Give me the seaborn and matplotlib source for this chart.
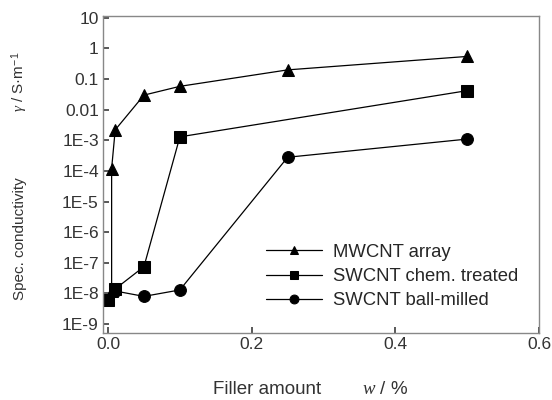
import matplotlib
matplotlib.use("Agg")
import matplotlib.pyplot as plt
import seaborn as sns

# filler amount w / %
mw_x = [0.005, 0.005, 0.01, 0.05, 0.1, 0.25, 0.5]
mw_y = [1.2e-8, 1.2e-4, 2.2e-3, 0.03, 0.058, 0.2, 0.55]

sw_chem_x = [0.0, 0.01, 0.05, 0.1, 0.5]
sw_chem_y = [6e-9, 1.4e-8, 7.5e-8, 1.3e-3, 0.042]

sw_ball_x = [0.01, 0.05, 0.1, 0.25, 0.5]
sw_ball_y = [1.2e-8, 8e-9, 1.3e-8, 2.8e-4, 1.1e-3]

series_names = ["MWCNT array", "SWCNT chem. treated", "SWCNT ball-milled"]
series_markers = ["^", "s", "o"]

ytick_vals = [10, 1, 0.1, 0.01, 1e-3, 1e-4, 1e-5, 1e-6, 1e-7, 1e-8, 1e-9]
ytick_labels = ["10", "1", "0.1", "0.01", "1E-3", "1E-4", "1E-5", "1E-6",
                "1E-7", "1E-8", "1E-9"]
xtick_vals = [0.0, 0.2, 0.4, 0.6]
xtick_labels = ["0.0", "0.2", "0.4", "0.6"]


def main():
    sns.set_theme(style="ticks")
    plt.rcParams['font.family'] = ['Liberation Sans', 'DejaVu Sans']
    plt.rcParams['mathtext.fontset'] = 'custom'
    plt.rcParams['mathtext.it'] = 'Liberation Serif:italic'
    plt.rcParams['mathtext.rm'] = 'Liberation Sans'

    fig = plt.figure(figsize=(5.52, 4.0), dpi=100)
    ax = fig.add_axes([0.1866, 0.1675, 0.79, 0.7925])

    data = [(mw_x, mw_y), (sw_chem_x, sw_chem_y), (sw_ball_x, sw_ball_y)]
    for (xs, ys), name, mk in zip(data, series_names, series_markers):
        sns.lineplot(x=xs, y=ys, ax=ax, color="black", lw=0.9,
                     marker=mk, markersize=8.5, markeredgecolor="black",
                     sort=False, estimator=None, label=name)

    ax.set_yscale("log")
    ax.set_xlim(-0.007, 0.6)
    ax.set_ylim(5.1e-10, 11.5)
    ax.set_yticks(ytick_vals)
    ax.set_yticklabels(ytick_labels)
    ax.set_xticks(xtick_vals)
    ax.set_xticklabels(xtick_labels)
    ax.tick_params(axis="both", which="both", direction="in", labelsize=12.5,
                   colors="#444444", labelcolor="#333333")
    ax.tick_params(axis="both", which="major", length=4, pad=3)
    ax.tick_params(axis="y", which="minor", length=2)
    for sp in ax.spines.values():
        sp.set_color("#888888")
        sp.set_linewidth(1.0)

    # axis titles: quantity name and symbol/unit are set apart, as in the original
    txt = dict(color="#333333", ha="center", va="center")
    fig.text(267 / 552, 1 - 390 / 400, "Filler amount", fontsize=13.5, **txt)
    fig.text(385 / 552, 1 - 390 / 400, "$w$ / %", fontsize=13.5, **txt)
    fig.text(20 / 552, 1 - 239 / 400, "Spec. conductivity", fontsize=11,
             rotation=90, **txt)
    fig.text(20 / 552, 1 - 82 / 400, "$\\gamma$ / S·m$^{-1}$", fontsize=11,
             rotation=90, **txt)

    ax.legend(loc="lower right", bbox_to_anchor=(0.99, 0.022), frameon=False,
              fontsize=13.3, handlelength=3.0, labelspacing=0.4,
              handletextpad=0.6, markerscale=0.75)

    plt.savefig("out.png", dpi=100)
    plt.close()


if __name__ == "__main__":
    main()
